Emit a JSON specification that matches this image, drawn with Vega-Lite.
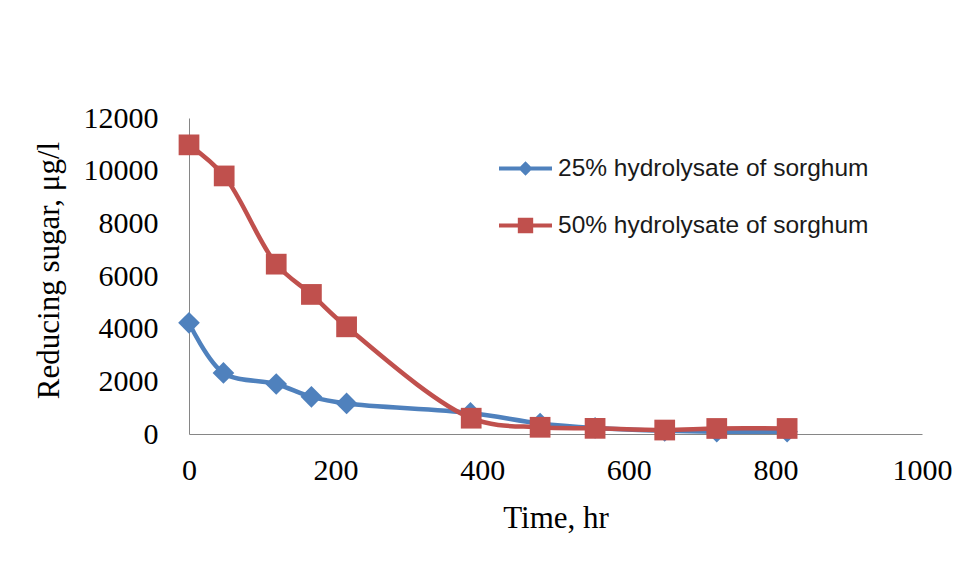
{
  "$schema": "https://vega.github.io/schema/vega-lite/v6.json",
  "width": 733,
  "height": 316,
  "autosize": {"type": "none"},
  "padding": {"left": 189, "top": 118, "right": 38, "bottom": 146},
  "background": "white",
  "data": {
    "values": [
      {"series": "25% hydrolysate of sorghum", "time": 0, "sugar": 4220},
      {"series": "25% hydrolysate of sorghum", "time": 47, "sugar": 2320},
      {"series": "25% hydrolysate of sorghum", "time": 119, "sugar": 1900},
      {"series": "25% hydrolysate of sorghum", "time": 167, "sugar": 1410},
      {"series": "25% hydrolysate of sorghum", "time": 215, "sugar": 1160},
      {"series": "25% hydrolysate of sorghum", "time": 384, "sugar": 800},
      {"series": "25% hydrolysate of sorghum", "time": 479, "sugar": 400},
      {"series": "25% hydrolysate of sorghum", "time": 554, "sugar": 230},
      {"series": "25% hydrolysate of sorghum", "time": 649, "sugar": 120},
      {"series": "25% hydrolysate of sorghum", "time": 720, "sugar": 90},
      {"series": "25% hydrolysate of sorghum", "time": 816, "sugar": 90},
      {"series": "50% hydrolysate of sorghum", "time": 0, "sugar": 10980},
      {"series": "50% hydrolysate of sorghum", "time": 48, "sugar": 9800},
      {"series": "50% hydrolysate of sorghum", "time": 119, "sugar": 6450},
      {"series": "50% hydrolysate of sorghum", "time": 167, "sugar": 5300},
      {"series": "50% hydrolysate of sorghum", "time": 215, "sugar": 4070},
      {"series": "50% hydrolysate of sorghum", "time": 385, "sugar": 600},
      {"series": "50% hydrolysate of sorghum", "time": 479, "sugar": 255},
      {"series": "50% hydrolysate of sorghum", "time": 554, "sugar": 215},
      {"series": "50% hydrolysate of sorghum", "time": 649, "sugar": 150},
      {"series": "50% hydrolysate of sorghum", "time": 720, "sugar": 210},
      {"series": "50% hydrolysate of sorghum", "time": 816, "sugar": 210}
    ]
  },
  "encoding": {
    "x": {
      "field": "time", "type": "quantitative",
      "scale": {"domain": [0, 1000], "nice": false},
      "axis": {"values": [0, 200, 400, 600, 800, 1000], "format": "d", "title": "Time, hr", "labelPadding": 21, "labelFlush": false, "labelOverlap": false, "titleY": 93, "titleBaseline": "alphabetic", "titleFontSize": 31}
    },
    "y": {
      "field": "sugar", "type": "quantitative",
      "scale": {"domain": [0, 12000], "nice": false},
      "axis": {"values": [0, 2000, 4000, 6000, 8000, 10000, 12000], "format": "d", "title": "Reducing sugar, μg/l", "labelPadding": 31, "titleX": -131, "titleY": 152, "titleAngle": -90, "titleAlign": "center", "titleBaseline": "alphabetic", "titleFontSize": 31}
    },
    "color": {
      "field": "series", "type": "nominal",
      "scale": {"domain": ["25% hydrolysate of sorghum", "50% hydrolysate of sorghum"], "range": ["#4F81BD", "#C0504D"]},
      "legend": {
        "title": null,
        "orient": "none",
        "legendX": 310,
        "legendY": 24,
        "symbolSize": 2809,
        "symbolStrokeWidth": 0,
        "labelOffset": 6,
        "rowPadding": 19,
        "labelFont": "Liberation Sans",
        "labelFontSize": 24.5,
        "labelColor": "#1a1a1a",
        "labelLimit": 500,
        "encode": {
          "symbols": {
            "update": {
              "shape": {"signal": "datum.value === '25% hydrolysate of sorghum' ? 'M-1,-0.075H1V0.075H-1Z M0,-0.27L0.27,0L0,0.27L-0.27,0Z' : 'M-1,-0.075H1V0.075H-1Z M-0.29,-0.29H0.29V0.29H-0.29Z'"},
              "fill": {"signal": "datum.value === '25% hydrolysate of sorghum' ? '#4F81BD' : '#C0504D'"},
              "stroke": {"value": "transparent"},
              "strokeWidth": {"value": 0},
              "opacity": {"value": 1},
              "fillOpacity": {"value": 1}
            }
          }
        }
      }
    }
  },
  "layer": [
    {
      "transform": [{"filter": "datum.series === '25% hydrolysate of sorghum'"}],
      "mark": {"type": "line", "interpolate": "catmull-rom", "strokeWidth": 4.5}
    },
    {
      "transform": [{"filter": "datum.series === '25% hydrolysate of sorghum'"}],
      "mark": {"type": "point", "shape": "diamond", "filled": true, "size": 470, "opacity": 1}
    },
    {
      "transform": [{"filter": "datum.series === '50% hydrolysate of sorghum'"}],
      "mark": {"type": "line", "interpolate": "catmull-rom", "strokeWidth": 4.5}
    },
    {
      "transform": [{"filter": "datum.series === '50% hydrolysate of sorghum'"}],
      "mark": {"type": "point", "shape": "square", "filled": true, "size": 430, "opacity": 1}
    }
  ],
  "config": {
    "view": {"stroke": null},
    "axis": {
      "grid": false,
      "ticks": false,
      "domainColor": "#868686",
      "domainWidth": 1,
      "labelFont": "Liberation Serif",
      "labelFontSize": 30,
      "labelColor": "#000000",
      "titleFont": "Liberation Serif",
      "titleFontSize": 28,
      "titleFontWeight": "normal",
      "titleColor": "#000000"
    }
  }
}
